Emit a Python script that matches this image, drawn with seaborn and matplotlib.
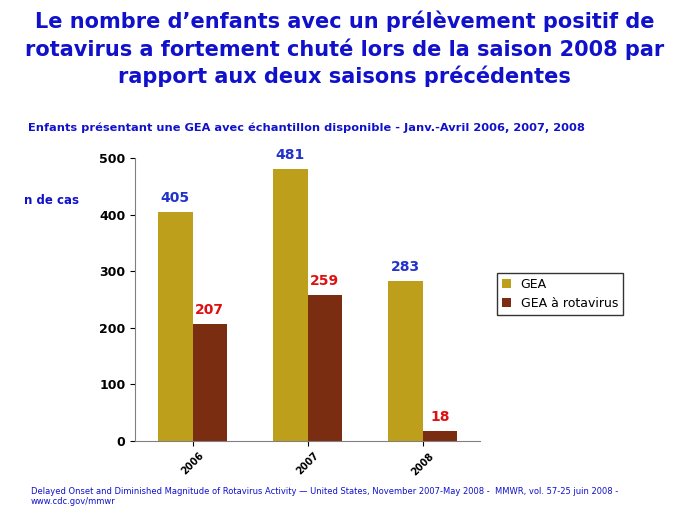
import matplotlib
matplotlib.use("Agg")
import matplotlib.pyplot as plt
import seaborn as sns
import pandas as pd

years = ["2006", "2007", "2008"]
gea = [405, 481, 283]
rota = [207, 259, 18]
series = ["GEA", "GEA à rotavirus"]

df = pd.DataFrame({
    "year": years * 2,
    "val": gea + rota,
    "serie": [series[0]] * 3 + [series[1]] * 3,
})

fig = plt.figure(figsize=(6.89, 5.17), dpi=100)
ax = fig.add_axes([0.196, 0.147, 0.501, 0.547])
sns.barplot(data=df, x="year", y="val", hue="serie", ax=ax,
            palette=["#D9B000", "#8B2500"], width=0.6, edgecolor="none")
ax.set_ylim(0, 500)
ax.set_yticks([0, 100, 200, 300, 400, 500])
ax.set_xlabel(""); ax.set_ylabel("")
ax.tick_params(axis="y", labelsize=9)
for lab in ax.get_yticklabels():
    lab.set_fontweight("bold")
ax.set_xticks(range(3))
ax.set_xticklabels(years, rotation=45, fontsize=7, fontweight="bold")
for s in ["top", "right"]:
    ax.spines[s].set_visible(False)
for s in ["left", "bottom"]:
    ax.spines[s].set_color("#808080")

for cont, col in zip(ax.containers, ["#2233CC", "#DD1111"]):
    ax.bar_label(cont, padding=5, color=col, fontsize=10, fontweight="bold")

ax.legend(loc="center left", bbox_to_anchor=(1.03, 0.52), fontsize=9,
          frameon=True, edgecolor="black", fancybox=False, handlelength=0.7)

blue = "#1111CC"
fig.text(0.5, 0.905, "Le nombre d’enfants avec un prélèvement positif de\n"
         "rotavirus a fortement chuté lors de la saison 2008 par\n"
         "rapport aux deux saisons précédentes",
         ha="center", va="center", color=blue, fontsize=15, fontweight="bold",
         linespacing=1.35)
fig.text(0.04, 0.752, "Enfants présentant une GEA avec échantillon disponible - Janv.-Avril 2006, 2007, 2008",
         color=blue, fontsize=8.2, fontweight="bold", va="center")
fig.text(0.035, 0.613, "n de cas", color=blue, fontsize=8.5, fontweight="bold", va="center")
fig.text(0.045, 0.04, "Delayed Onset and Diminished Magnitude of Rotavirus Activity — United States, November 2007-May 2008 -  MMWR, vol. 57-25 juin 2008 -\nwww.cdc.gov/mmwr",
         color=blue, fontsize=6, va="center")
fig.savefig("out.png", dpi=100)
